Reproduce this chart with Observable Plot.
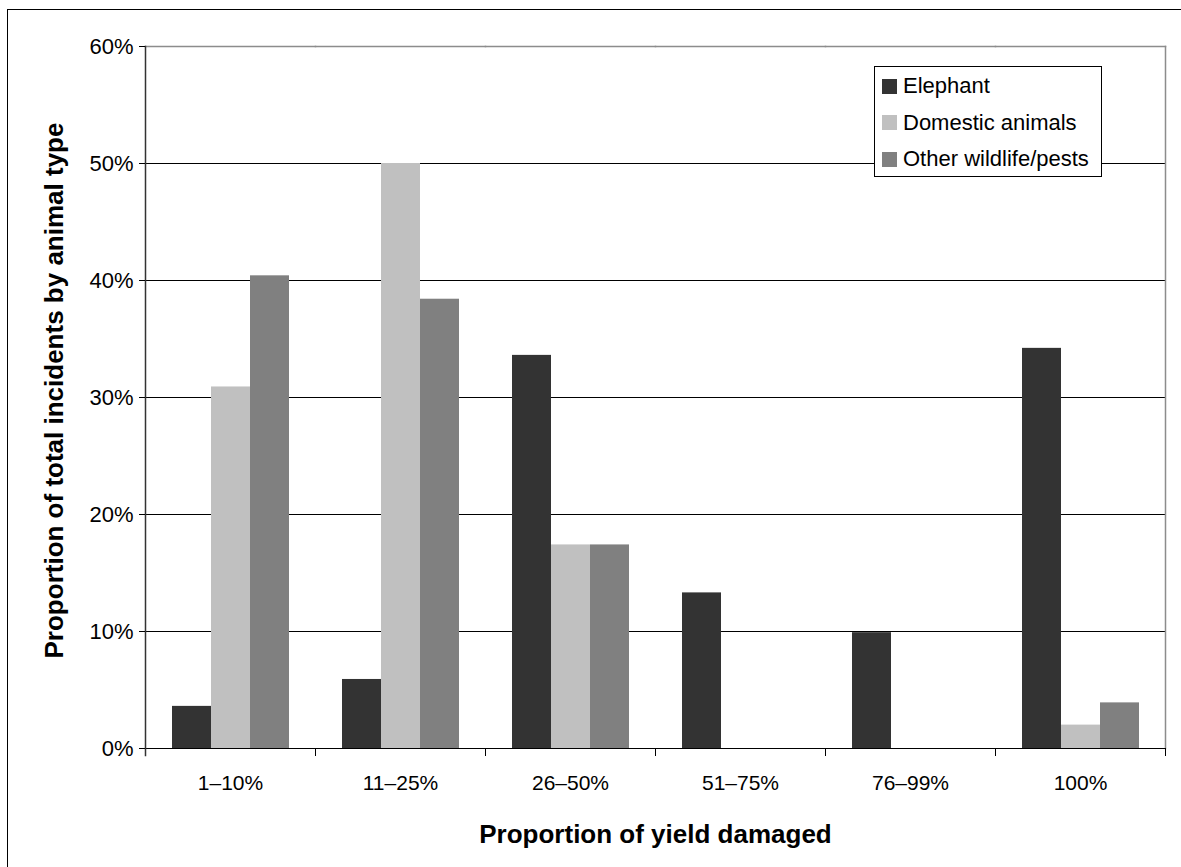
<!DOCTYPE html>
<html>
<head>
<meta charset="utf-8">
<script src="https://cdn.jsdelivr.net/npm/d3@7"></script>
<script src="https://cdn.jsdelivr.net/npm/@observablehq/plot@0.6"></script>
<style>
  html, body { margin: 0; padding: 0; background: #fff; }
  #wrap { position: relative; width: 1181px; height: 867px; overflow: hidden;
          font-family: "Liberation Sans", Arial, sans-serif; color: #000; }
  #edge { position: absolute; left: 7px; top: 9px; right: -4px; bottom: -4px;
          border-top: 1.5px solid #000; border-left: 1.5px solid #000; }
  #legend { position: absolute; left: 874px; top: 66px; width: 228px; height: 111px;
            box-sizing: border-box; border: 1px solid #000; background: #fff; }
  #legend .row { position: absolute; left: 7px; height: 24px; display: flex; align-items: center;
                 font-size: 22px; white-space: nowrap; }
  #legend .sw { width: 15px; height: 15px; margin-right: 6px; flex: none; }
</style>
</head>
<body>
<div id="wrap"><div id="edge"></div></div>
<script>
// Damage classes (share of the crop yield lost per incident)
const categories = ["1–10%", "11–25%", "26–50%", "51–75%", "76–99%", "100%"];
// Animal types and their bar fills
const seriesNames = ["Elephant", "Domestic animals", "Other wildlife/pests"];
const seriesColors = ["#333333", "#c0c0c0", "#808080"];
// Share of incidents (%) per damage class for each animal type
const elephant = [3.6, 5.9, 33.6, 13.3, 9.9, 34.2];
const domestic = [30.9, 50.0, 17.4, 0, 0, 2.0];
const otherWildlife = [40.4, 38.4, 17.4, 0, 0, 3.9];
// Y axis ticks (fractions)
const yTicks = [0, 0.1, 0.2, 0.3, 0.4, 0.5, 0.6];

const valuesBySeries = [elephant, domestic, otherWildlife];
const rows = [];
categories.forEach((c, i) => {
  seriesNames.forEach((s, j) => {
    const v = valuesBySeries[j][i];
    if (v > 0) rows.push({category: c, series: s, value: v / 100});
  });
});

const W = 1181, H = 867;
const mTop = 46, mBottom = 119, mLeft = 143, mRight = 14;
const innerH = H - mTop - mBottom;
const font = "'Liberation Sans', Arial, sans-serif";

const chart = Plot.plot({
  width: W,
  height: H,
  marginTop: mTop,
  marginBottom: mBottom,
  marginLeft: mLeft,
  marginRight: mRight,
  style: {fontFamily: font, color: "#000", background: "transparent", overflow: "visible"},
  fx: {domain: categories, padding: 0, label: null},
  x: {domain: seriesNames, paddingInner: 0, paddingOuter: 0.66, axis: null},
  y: {domain: [0, 0.6], axis: null},
  color: {domain: seriesNames, range: seriesColors},
  marks: [
    // horizontal gridlines
    Plot.ruleY(yTicks.filter(d => d > 0 && d < 0.6), {stroke: "#000", strokeWidth: 1}),
    // plot-area border (top, right)
    Plot.frame({anchor: "top", stroke: "#8c8c8c", strokeWidth: 1.5}),
    Plot.frame({anchor: "right", stroke: "#8c8c8c", strokeWidth: 1.5, facet: "super"}),
    // bars
    Plot.barY(rows, {fx: "category", x: "series", y: "value", fill: "series"}),
    // category axis line and boundary ticks
    Plot.ruleY([0], {stroke: "#000", strokeWidth: 1.2}),
    Plot.frame({anchor: "left", stroke: "#000", insetTop: innerH, insetBottom: -7}),
    Plot.frame({anchor: "right", stroke: "#000", insetTop: innerH, insetBottom: -7, facet: "super"}),
    // value axis line
    Plot.frame({anchor: "left", stroke: "#333", strokeWidth: 1.5, insetBottom: -7, facet: "super"}),
    Plot.axisY({
      ticks: yTicks, tickFormat: d3.format(".0%"), tickSize: 6, tickPadding: 6,
      fontSize: 22, stroke: "#000", label: null
    }),
    Plot.axisFx({anchor: "bottom", tickSize: 0, tickPadding: 27, fontSize: 21, label: null}),
    // axis titles
    Plot.text(["Proportion of yield damaged"], {
      frameAnchor: "bottom", lineAnchor: "middle", textAnchor: "middle", dy: 86,
      fontSize: 26, fontWeight: "bold", facet: "super"
    }),
    Plot.text(["Proportion of total incidents by animal type"], {
      frameAnchor: "left", lineAnchor: "middle", textAnchor: "middle", dx: -91, dy: -7, rotate: -90,
      fontSize: 26, fontWeight: "bold", facet: "super"
    })
  ]
});

const wrap = document.getElementById("wrap");
wrap.insertBefore(chart, wrap.firstChild);
chart.style.position = "absolute";
chart.style.left = "0px";
chart.style.top = "0px";

// legend box
const legend = document.createElement("div");
legend.id = "legend";
seriesNames.forEach((s, i) => {
  const row = document.createElement("div");
  row.className = "row";
  row.style.top = (7 + i * 36.6) + "px";
  const sw = document.createElement("span");
  sw.className = "sw";
  sw.style.background = seriesColors[i];
  const label = document.createElement("span");
  label.textContent = s;
  row.appendChild(sw);
  row.appendChild(label);
  legend.appendChild(row);
});
wrap.appendChild(legend);
</script>
</body>
</html>
